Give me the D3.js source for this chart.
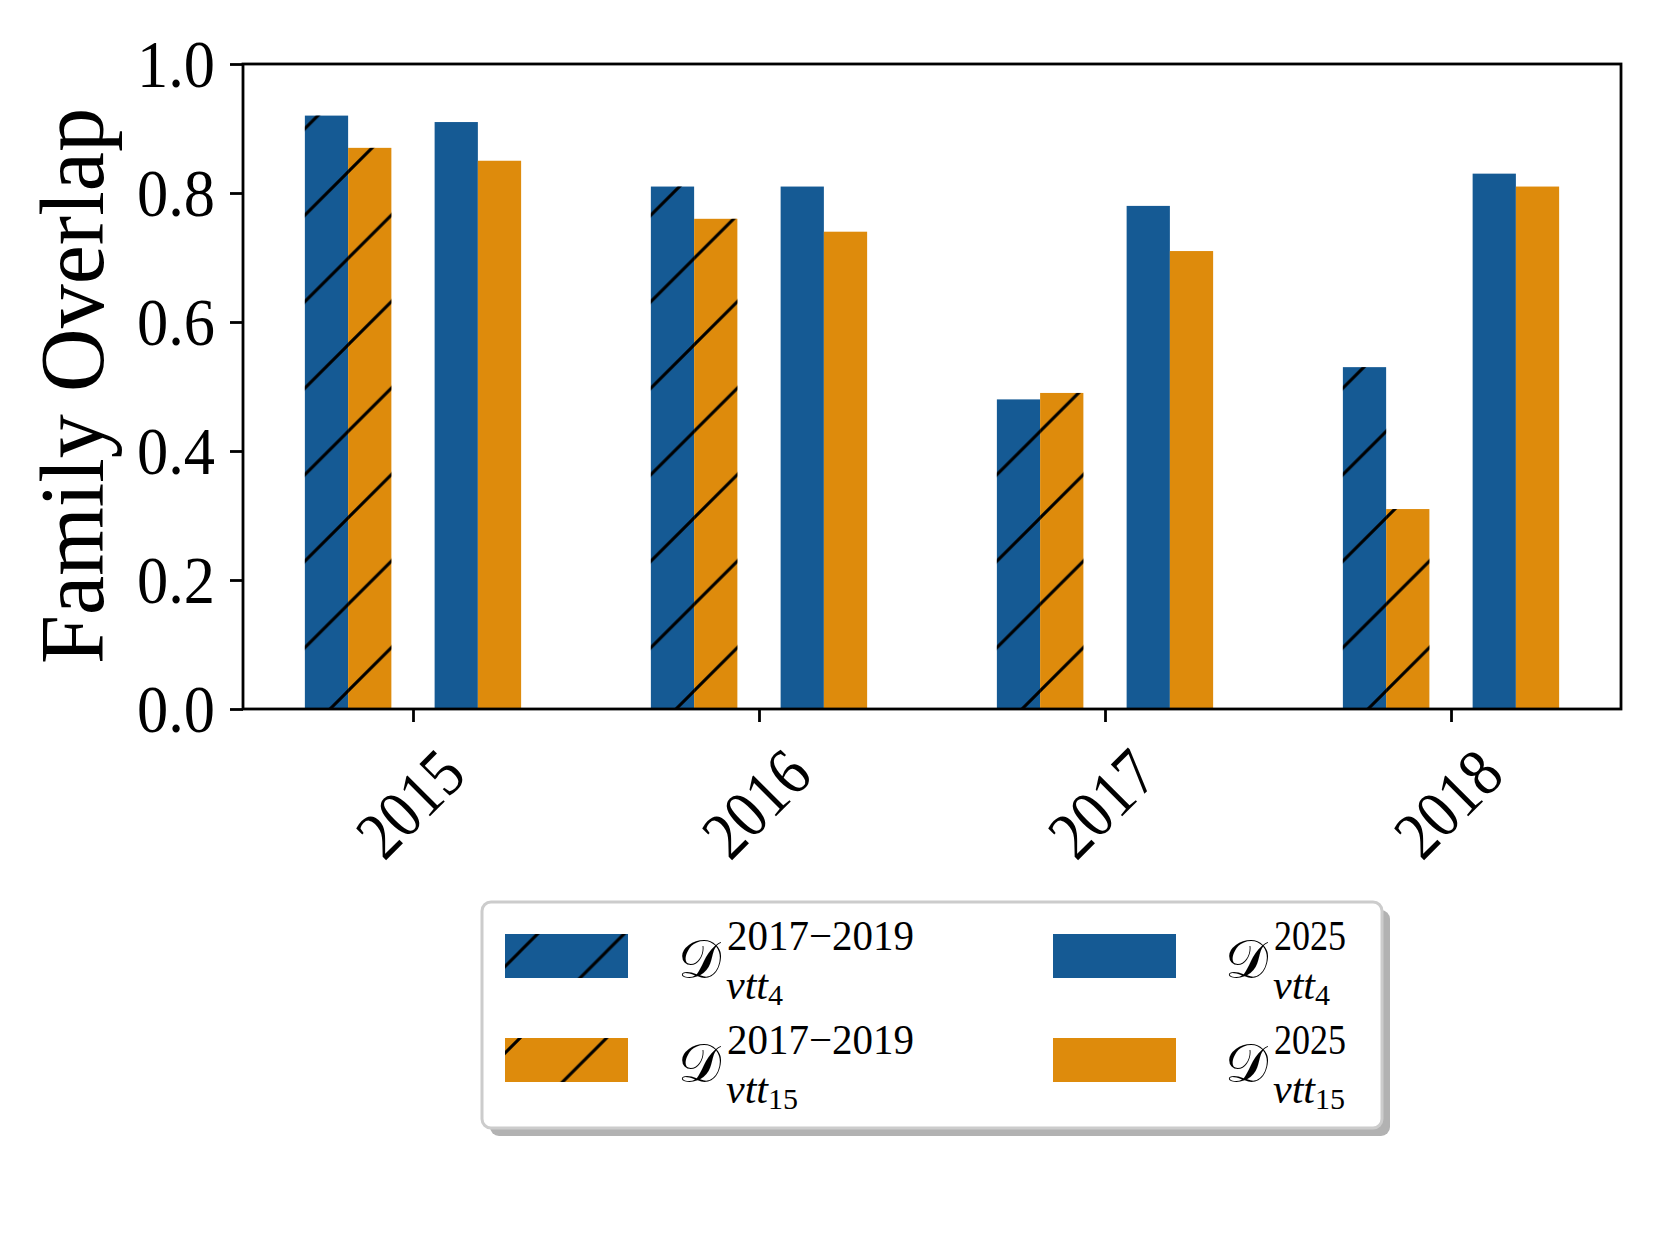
<!DOCTYPE html>
<html>
<head>
<meta charset="utf-8">
<script src="https://cdn.jsdelivr.net/npm/d3@7/dist/d3.min.js"></script>
<style>
  html, body { margin: 0; padding: 0; background: #ffffff; }
  svg { display: block; }
</style>
</head>
<body>
<svg id="chart" width="1660" height="1245"></svg>
<script>
// ---------------- data ----------------
const years = ["2015", "2016", "2017", "2018"];
const vtt4_1719  = [0.92, 0.81, 0.48, 0.53];
const vtt15_1719 = [0.87, 0.76, 0.49, 0.31];
const vtt4_2025  = [0.91, 0.81, 0.78, 0.83];
const vtt15_2025 = [0.85, 0.74, 0.71, 0.81];
const yTicks = [0, 0.2, 0.4, 0.6, 0.8, 1.0];
const seriesNames = ["vtt4_1719", "vtt15_1719", "vtt4_2025", "vtt15_2025"];
const legendSup = ["2017\u22122019", "2017\u22122019", "2025", "2025"];
const legendSub = ["4", "15", "4", "15"];
const yLabel = "Family Overlap";

// ---------------- styling / layout ----------------
const BLUE = "#155A94", ORANGE = "#DE8B0C";
const seriesColor = [BLUE, ORANGE, BLUE, ORANGE];
const seriesHatch = [true, true, false, false];
const seriesOffset = [-0.25, -0.125, 0.125, 0.25];
const barW = 0.125;
const seriesValues = [vtt4_1719, vtt15_1719, vtt4_2025, vtt15_2025];

const L = 243, R = 1621, T = 64, B = 709;
const FONT = "'Liberation Serif', 'DejaVu Serif', serif";

const svg = d3.select("#chart");
svg.append("rect").attr("width", 1660).attr("height", 1245).attr("fill", "#fff");

// hatch pattern (global, figure-aligned)
const P = 86.5;
const defs = svg.append("defs");
const pat = defs.append("pattern")
  .attr("id", "hatch")
  .attr("patternUnits", "userSpaceOnUse")
  .attr("x", 1).attr("y", 0)
  .attr("width", P).attr("height", P);
pat.append("path")
  .attr("d", `M0,${P} L${P},0 M${-P/4},${P/4} L${P/4},${-P/4} M${3*P/4},${5*P/4} L${5*P/4},${3*P/4}`)
  .attr("stroke", "#000").attr("stroke-width", 3).attr("fill", "none");

const x = d3.scaleLinear().domain([-0.4913, 3.4913]).range([L, R]);
const y = d3.scaleLinear().domain([0, 1]).range([B, T]);

// bars
const barData = [];
seriesValues.forEach((vals, s) => {
  vals.forEach((v, i) => barData.push({ s, i, v }));
});
const bars = svg.append("g").attr("class", "bars");
bars.selectAll("rect.fill").data(barData).enter().append("rect")
  .attr("x", d => x(d.i + seriesOffset[d.s] - barW / 2))
  .attr("width", d => x(barW) - x(0))
  .attr("y", d => y(d.v))
  .attr("height", d => y(0) - y(d.v))
  .attr("fill", d => seriesColor[d.s]);
bars.selectAll("rect.hatch").data(barData.filter(d => seriesHatch[d.s])).enter().append("rect")
  .attr("x", d => x(d.i + seriesOffset[d.s] - barW / 2))
  .attr("width", d => x(barW) - x(0))
  .attr("y", d => y(d.v))
  .attr("height", d => y(0) - y(d.v))
  .attr("fill", "url(#hatch)");

// y axis
const yAxis = d3.axisLeft(y).tickValues(yTicks).tickSize(13).tickPadding(15)
  .tickFormat(d3.format(".1f"));
const gy = svg.append("g").attr("transform", `translate(${L},0)`).call(yAxis);
gy.select(".domain").remove();
gy.selectAll(".tick line").attr("stroke", "#000").attr("stroke-width", 2.8);
gy.selectAll(".tick text")
  .attr("font-family", FONT).attr("font-size", 68).attr("fill", "#000")
  .attr("y", 0).attr("dy", "0.33em")
  .attr("textLength", 78).attr("lengthAdjust", "spacingAndGlyphs");

// x axis
const xAxis = d3.axisBottom(x).tickValues(d3.range(years.length)).tickSize(13)
  .tickFormat(i => years[i]);
const gx = svg.append("g").attr("transform", `translate(0,${B})`).call(xAxis);
gx.select(".domain").remove();
gx.selectAll(".tick line").attr("stroke", "#000").attr("stroke-width", 2.8);
gx.selectAll(".tick text")
  .attr("font-family", FONT).attr("font-size", 68).attr("fill", "#000")
  .attr("x", 0).attr("y", 0).attr("dy", "0.33em")
  .attr("text-anchor", "middle")
  .attr("textLength", 119).attr("lengthAdjust", "spacingAndGlyphs")
  .attr("transform", "translate(-3,95) rotate(-45)");

// spines
svg.append("rect")
  .attr("x", L).attr("y", T).attr("width", R - L).attr("height", B - T)
  .attr("fill", "none").attr("stroke", "#000").attr("stroke-width", 2.8);

// y label
svg.append("text")
  .attr("transform", `translate(103,386) rotate(-90)`)
  .attr("text-anchor", "middle")
  .attr("font-family", FONT).attr("font-size", 90).attr("fill", "#000")
  .attr("textLength", 556).attr("lengthAdjust", "spacingAndGlyphs")
  .text(yLabel);

// legend
const lg = svg.append("g");
const LX = 482, LY = 902, LW = 900, LH = 226;
lg.append("rect").attr("x", LX + 8).attr("y", LY + 8).attr("width", LW).attr("height", LH)
  .attr("rx", 9).attr("fill", "#b2b2b2");
lg.append("rect").attr("x", LX).attr("y", LY).attr("width", LW).attr("height", LH)
  .attr("rx", 9).attr("fill", "#fff").attr("stroke", "#cccccc").attr("stroke-width", 3);

const colX = [505, 1053];
const rowY = [934, 1038];
const textX = [678, 1225];
seriesNames.forEach((name, s) => {
  const c = Math.floor(s / 2), r = s % 2;
  const px = colX[c], py = rowY[r];
  lg.append("rect").attr("x", px).attr("y", py).attr("width", 123).attr("height", 44)
    .attr("fill", seriesColor[s]);
  if (seriesHatch[s]) {
    lg.append("rect").attr("x", px).attr("y", py).attr("width", 123).attr("height", 44)
      .attr("fill", "url(#hatch)");
  }
  const tx = textX[c];
  // calligraphic D
  const dT = lg.append("text").attr("x", tx).attr("y", py + 44)
    .attr("font-family", "'DejaVu Serif', 'DejaVu Sans', serif")
    .attr("font-size", 54).attr("fill", "#000")
    .text("\u{1D49F}");
  const dW = dT.node().getBBox().width;
  if (dW > 45) dT.attr("font-size", 54 * 45 / dW);
  // superscript
  const supLen = legendSup[s].length > 4 ? 187 : 72;
  lg.append("text").attr("x", tx + 49).attr("y", py + 16)
    .attr("font-family", FONT).attr("font-size", 42).attr("fill", "#000")
    .attr("textLength", supLen).attr("lengthAdjust", "spacingAndGlyphs")
    .text(legendSup[s]);
  // subscript
  const sub = lg.append("text").attr("x", tx + 48).attr("y", py + 65)
    .attr("font-family", FONT).attr("font-size", 42).attr("fill", "#000");
  sub.append("tspan").attr("font-style", "italic").text("vtt");
  sub.append("tspan").attr("font-size", 30).attr("dy", 6).text(legendSub[s]);
});
</script>
</body>
</html>
